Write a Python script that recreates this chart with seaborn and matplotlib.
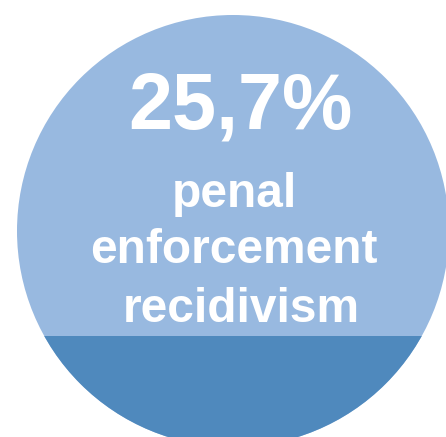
import matplotlib
matplotlib.use("Agg")
import matplotlib.pyplot as plt
from matplotlib.patches import Circle
import seaborn as sns
import pandas as pd

# Share of penal enforcement recidivism (percent)
label_lines = ["penal", "enforcement", "recidivism"]
value_pct = [25.7]
total_pct = [100.0]
category = ["recidivism"]

sns.set_theme(style="white")
plt.rcParams["font.family"] = ["Liberation Sans", "DejaVu Sans"]

light = "#98B9E0"
dark = "#4F89BD"

W, H = 446, 437
fig = plt.figure(figsize=(W / 100, H / 100), dpi=100)
fig.patch.set_facecolor("white")

# circle geometry in pixels (x from left, y from top)
cx, top_px, r = 233, 15, 216
left = (cx - r) / W
bottom = (H - (top_px + 2 * r)) / H
ax = fig.add_axes([left, bottom, 2 * r / W, 2 * r / H])

df_total = pd.DataFrame({"cat": category, "pct": total_pct})
df_val = pd.DataFrame({"cat": category, "pct": value_pct})
sns.barplot(data=df_total, x="cat", y="pct", color=light, width=1.0,
            linewidth=0, saturation=1, ax=ax)
sns.barplot(data=df_val, x="cat", y="pct", color=dark, width=1.0,
            linewidth=0, saturation=1, ax=ax)
ax.set_xlim(-0.5, 0.5)
ax.set_ylim(0, 100)
ax.set_axis_off()

clip = Circle((0.5, 0.5), 0.5, transform=ax.transAxes)
for p in ax.patches:
    p.set_clip_path(clip)

# centre label
pct_text = f"{value_pct[0]:.1f}".replace(".", ",") + "%"
fig.text(240 / W, 1 - 108 / H, pct_text, ha="center", va="center",
         color="white", fontsize=57, fontweight="bold")
for line, (x, y) in zip(label_lines, [(234.5, 207), (233.5, 263), (241, 322)]):
    fig.text(x / W, 1 - y / H, line, ha="center", va="baseline",
             color="white", fontsize=34.5, fontweight="bold")

fig.savefig("out.png", dpi=100, facecolor="white")
